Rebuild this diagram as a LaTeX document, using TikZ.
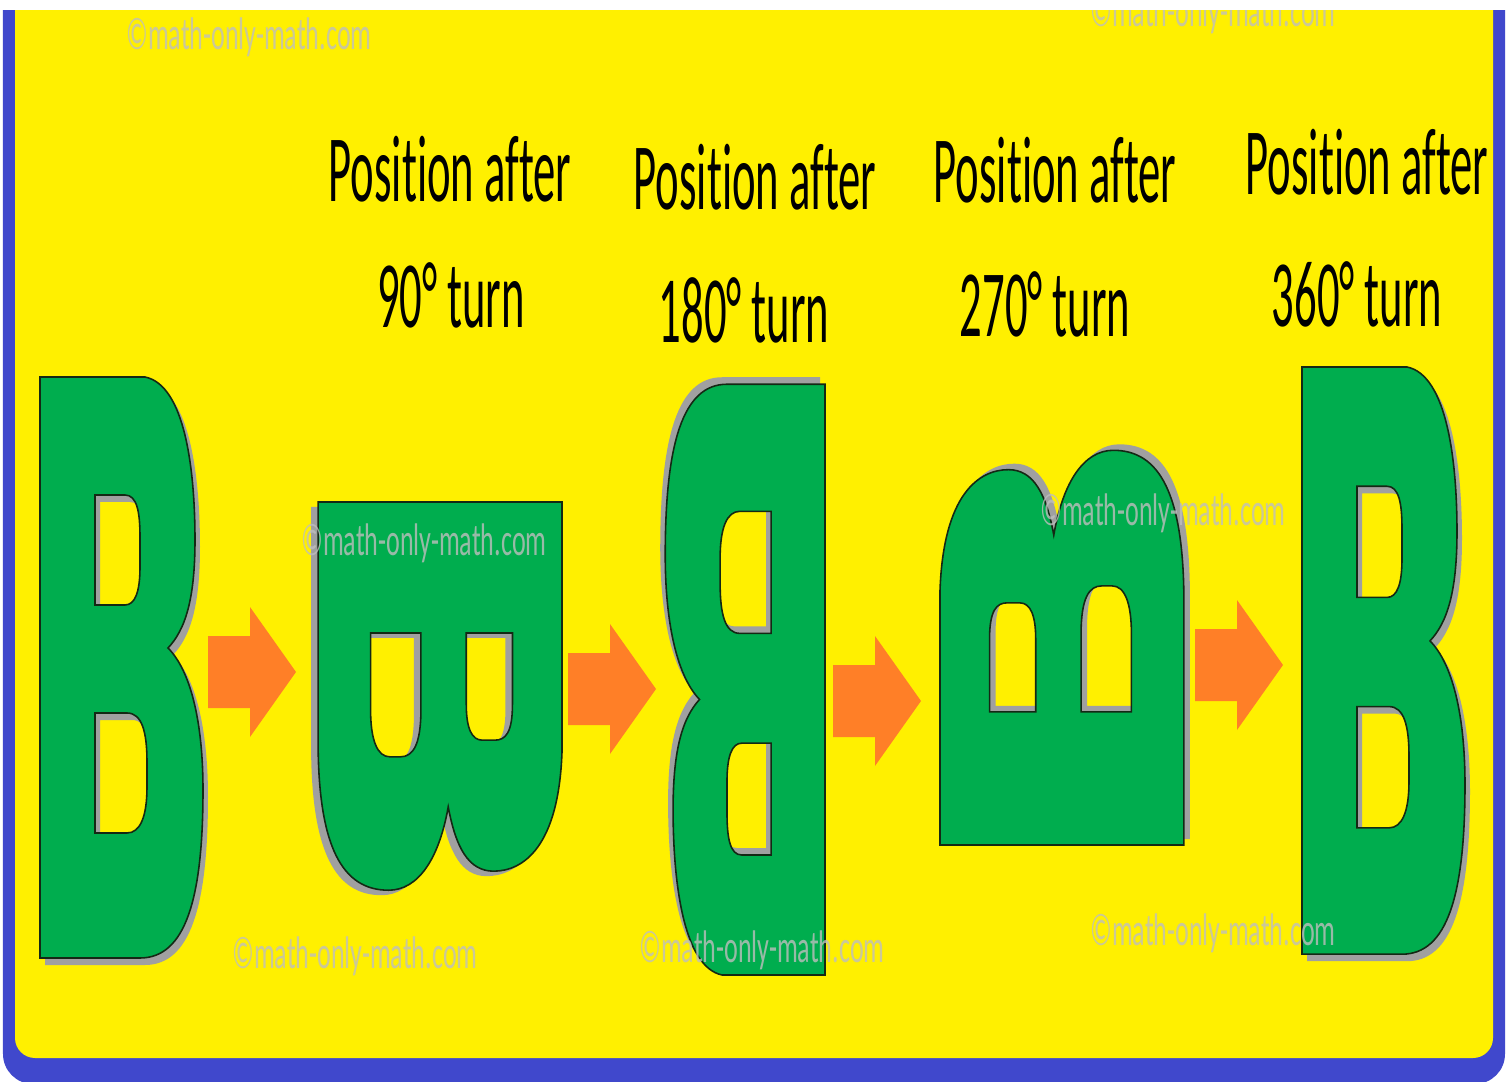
\documentclass[tikz,border=0pt]{standalone}
\usepackage{fontspec}
\newfontfamily\labelfont[Ligatures=NoCommon]{Carlito}
\definecolor{bgyellow}{RGB}{255,240,0}
\definecolor{frameblue}{RGB}{64,72,204}
\definecolor{letgreen}{RGB}{0,173,78}
\definecolor{letline}{RGB}{20,40,20}
\definecolor{shadowgray}{RGB}{160,160,160}
\definecolor{arrowcol}{RGB}{255,127,39}
\definecolor{wmgray}{RGB}{190,190,190}

% the letter B, drawn in its own px box (163 wide, 581 high, y down)
\newcommand{\Bshape}[1]{%
  \fill[#1] (0,0) -- (105,0) .. controls (145,8) and (155,93) .. (155,163)
    .. controls (155,223) and (145,253) .. (128,271)
    .. controls (150,293) and (163,343) .. (163,413)
    .. controls (163,523) and (145,581) .. (100,581) -- (0,581) -- cycle
    (55,118) -- (85,118) .. controls (97,118) and (100,135) .. (100,160) -- (100,190)
    .. controls (100,215) and (95,228) .. (85,228) -- (55,228) -- cycle
    (55,336) -- (87,336) .. controls (102,336) and (107,355) .. (107,385) -- (107,410)
    .. controls (107,440) and (100,456) .. (87,456) -- (55,456) -- cycle;}
% #1 corner, #2 x vector, #3 y vector, #4 shadow offset
\newcommand{\drawB}[4]{%
  \begin{scope}[shift={#4}, shift={#1}, x={#2}, y={#3}]
    \Bshape{letshadow}
  \end{scope}
  \begin{scope}[shift={#1}, x={#2}, y={#3}]
    \Bshape{letter}
  \end{scope}}

\begin{document}
\begin{tikzpicture}[x=0.01cm, y=-0.01cm,
    letter/.style={fill=letgreen, draw=letline, line width=0.45pt, even odd rule},
    letshadow/.style={fill=shadowgray, even odd rule},
    turnarrow/.style={fill=arrowcol},
    turnlabel/.style={font=\labelfont\fontsize{27}{30}\selectfont, anchor=base, inner sep=0pt, xscale=0.47},
    wmark/.style={font=\labelfont\fontsize{13}{15}\selectfont, anchor=base, inner sep=0pt, xscale=0.57, text=wmgray, text opacity=0.8}]
  \useasboundingbox (0,0) rectangle (1508,1082);
  \fill[white] (0,0) rectangle (1508,1082);
  \begin{scope}
    \clip (0,11) rectangle (1508,1082);
    \fill[frameblue, rounded corners=0.3cm] (3,-40) rectangle (1505,1084);
    \fill[bgyellow, rounded corners=0.2cm] (15,-40) rectangle (1493,1058);

    % the five positions of B
    \drawB{(40,377)}{(0.01cm,0cm)}{(0cm,-0.01cm)}{(5,7)}
    \drawB{(562,502)}{(0cm,-0.0238cm)}{(-0.0042cm,0cm)}{(-7,5)}
    \drawB{(825,975)}{(-0.0098cm,0cm)}{(0cm,0.01016cm)}{(-5,-7)}
    \drawB{(940,845)}{(0cm,0.0242cm)}{(0.0042cm,0cm)}{(6,-6)}
    \drawB{(1302,367)}{(0.01cm,0cm)}{(0cm,-0.0101cm)}{(5,7)}

    % arrows between them
    \foreach \ax/\ay in {208/672, 568/689, 833/701, 1195/665}
      \fill[turnarrow] (\ax,\ay-36) -- (\ax+42,\ay-36) -- (\ax+42,\ay-65) -- (\ax+88,\ay)
        -- (\ax+42,\ay+65) -- (\ax+42,\ay+36) -- (\ax,\ay+36) -- cycle;

    \node[turnlabel] (pos1a) at (450,202) {Position after};
    \node[turnlabel] (pos1b) at (451,328) {90° turn};
    \node[turnlabel] (pos2a) at (755,210) {Position after};
    \node[turnlabel] (pos2b) at (744,343) {180° turn};
    \node[turnlabel] (pos3a) at (1055,203) {Position after};
    \node[turnlabel] (pos3b) at (1045,337) {270° turn};
    \node[turnlabel] (pos4a) at (1367,195) {Position after};
    \node[turnlabel] (pos4b) at (1357,327) {360° turn};

    \node[wmark] (wm1) at (249,50) {©math-only-math.com};
    \node[wmark] (wm2) at (1213,27) {©math-only-math.com};
    \node[wmark] (wm3) at (424,556) {©math-only-math.com};
    \node[wmark] (wm4) at (1163,525) {©math-only-math.com};
    \node[wmark] (wm5) at (355,968) {©math-only-math.com};
    \node[wmark] (wm6) at (762,962) {©math-only-math.com};
    \node[wmark] (wm7) at (1213,945) {©math-only-math.com};
  \end{scope}
\end{tikzpicture}
\end{document}
